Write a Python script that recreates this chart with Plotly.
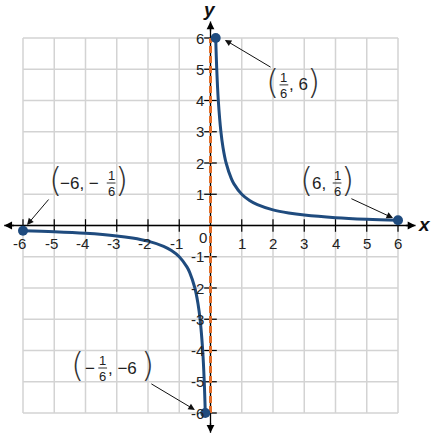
import plotly.graph_objects as go

# -----------------------------------------------------------------------------
# Donnees (y = 1/x, deux branches)
# -----------------------------------------------------------------------------
pos_x = [1 / 6, 0.2, 0.25, 0.333, 0.4, 0.5, 0.667, 0.75, 1, 1.25, 1.5, 2, 2.5, 3, 4, 5, 6]
pos_y = [6, 5, 4, 3, 2.5, 2, 1.5, 1.333, 1, 0.8, 0.667, 0.5, 0.4, 0.333, 0.25, 0.2, 1 / 6]
neg_x = [-6, -5, -4, -3, -2.5, -2, -1.5, -1.25, -1, -0.75, -0.667, -0.5, -0.4, -0.333, -0.25, -0.2, -1 / 6]
neg_y = [-1 / 6, -0.2, -0.25, -0.333, -0.4, -0.5, -0.667, -0.8, -1, -1.333, -1.5, -2, -2.5, -3, -4, -5, -6]
end_x = [1 / 6, 6, -6, -1 / 6]
end_y = [6, 1 / 6, -1 / 6, -6]
ticks = [-6, -5, -4, -3, -2, -1, 1, 2, 3, 4, 5, 6]
grid_vals = [-6, -5, -4, -3, -2, -1, 0, 1, 2, 3, 4, 5, 6]

BLEU = "#1f4b7e"
ORANGE = "#e36d27"
GRILLE = "#d3d3d3"
POLICE = "Liberation Sans, Arial, sans-serif"

fig = go.Figure()

# grille
shapes = []
for v in grid_vals:
    shapes.append(dict(type="line", x0=v, x1=v, y0=-6, y1=6, layer="below",
                       line=dict(color=GRILLE, width=1.5)))
    shapes.append(dict(type="line", x0=-6, x1=6, y0=v, y1=v, layer="below",
                       line=dict(color=GRILLE, width=1.5)))

annotations = []

# axes (traits sous l'asymptote) + pointes de fleche aux bouts
fig.add_trace(go.Scatter(x=[-6.6, 6.56], y=[0, 0], mode="lines", hoverinfo="skip",
                         line=dict(color="black", width=1.3)))
fig.add_trace(go.Scatter(x=[0, 0], y=[-6.63, 6.53], mode="lines", hoverinfo="skip",
                         line=dict(color="black", width=1.3)))
for (hx, hy, qx, qy) in [(6.56, 0, 6.2, 0), (-6.6, 0, -6.24, 0),
                         (0, 6.53, 0, 6.17), (0, -6.63, 0, -6.27)]:
    annotations.append(dict(x=hx, y=hy, ax=qx, ay=qy, xref="x", yref="y", axref="x", ayref="y",
                            text="", showarrow=True, arrowhead=2, arrowsize=1.2,
                            arrowwidth=1.3, arrowcolor="black"))

# petits traits de graduation
fig.add_trace(go.Scatter(x=ticks, y=[0] * len(ticks), mode="markers", hoverinfo="skip",
                         marker=dict(symbol="line-ns", size=9, line=dict(color="black", width=1.2))))
fig.add_trace(go.Scatter(x=[0] * len(ticks), y=ticks, mode="markers", hoverinfo="skip",
                         marker=dict(symbol="line-ew", size=9, line=dict(color="black", width=1.2))))

# asymptote x = 0
fig.add_trace(go.Scatter(x=[0, 0], y=[-6, 6], mode="lines", hoverinfo="skip",
                         line=dict(color=ORANGE, width=3, dash="7px,3px")))

# courbe
fig.add_trace(go.Scatter(x=pos_x, y=pos_y, mode="lines", line_shape="spline",
                         line=dict(color=BLEU, width=3)))
fig.add_trace(go.Scatter(x=neg_x, y=neg_y, mode="lines", line_shape="spline",
                         line=dict(color=BLEU, width=3)))
fig.add_trace(go.Scatter(x=end_x, y=end_y, mode="markers",
                         marker=dict(color=BLEU, size=10)))

# etiquettes des graduations
for v in ticks:
    annotations.append(dict(x=v - (0.1 if v < 0 else 0), y=-0.56, text=str(v), showarrow=False,
                            font=dict(family=POLICE, size=15, color="#222")))
    annotations.append(dict(x=-0.16, y=v, text=str(v), showarrow=False, xanchor="right",
                            font=dict(family=POLICE, size=15, color="#222")))
annotations.append(dict(x=-0.24, y=-0.37, text="0", showarrow=False,
                        font=dict(family=POLICE, size=15, color="#222")))

# titres des axes
annotations.append(dict(x=-0.02, y=6.9, text="<b><i>y</i></b>", showarrow=False,
                        font=dict(family=POLICE, size=19, color="#111")))
annotations.append(dict(x=6.86, y=0.03, text="<b><i>x</i></b>", showarrow=False,
                        font=dict(family=POLICE, size=19, color="#111")))


def texte(x, y, t, size=17, anchor="center"):
    annotations.append(dict(x=x, y=y, text=t, showarrow=False, xanchor=anchor, borderpad=0,
                            font=dict(family=POLICE, size=size, color="#222")))


def paren(x, y, t):
    annotations.append(dict(x=x, y=y, text=t, showarrow=False, borderpad=0,
                            font=dict(family="DejaVu Sans", size=34, color="#333", weight=200)))


def fraction(x, y):
    texte(x, y + 0.25, "1", size=13)
    texte(x, y - 0.27, "6", size=13)
    shapes.append(dict(type="line", x0=x - 0.14, x1=x + 0.14, y0=y, y1=y,
                       line=dict(color="#333", width=1)))


def fleche(x, y, ax, ay):
    annotations.append(dict(x=x, y=y, ax=ax, ay=ay, xref="x", yref="y", axref="x", ayref="y",
                            text="", showarrow=True, arrowhead=2, arrowsize=1.3,
                            arrowwidth=1, arrowcolor="#111"))


# (1/6, 6)
paren(1.98, 4.6, "(")
fraction(2.35, 4.5)
texte(2.47, 4.5, ", 6", anchor="left")
paren(3.3, 4.6, ")")
fleche(0.46, 5.94, 1.97, 5.04)

# (6, 1/6)
paren(3.07, 1.46, "(")
texte(3.2, 1.36, "6,", anchor="left")
fraction(4.05, 1.36)
paren(4.38, 1.46, ")")
fleche(5.84, 0.24, 4.46, 0.88)

# (-6, -1/6)
paren(-4.96, 1.46, "(")
texte(-4.84, 1.36, "\u22126, \u2212", anchor="left")
fraction(-3.18, 1.36)
paren(-2.84, 1.46, ")")
fleche(-5.87, 0.02, -5.14, 0.88)

# (-1/6, -6)
paren(-4.27, -4.46, "(")
texte(-4.06, -4.56, "\u2212", anchor="left")
fraction(-3.45, -4.56)
texte(-3.31, -4.56, ", \u22126", anchor="left")
paren(-2.02, -4.46, ")")
fleche(-0.5, -5.9, -1.94, -5.04)

fig.update_layout(
    width=433,
    height=437,
    margin=dict(l=0, r=0, t=0, b=0),
    plot_bgcolor="white",
    paper_bgcolor="white",
    showlegend=False,
    shapes=shapes,
    annotations=annotations,
    xaxis=dict(range=[-6.736, 7.12], visible=False, fixedrange=True),
    yaxis=dict(range=[-6.768, 7.216], visible=False, fixedrange=True),
)

# la page a une marge de 8px par defaut : on la supprime
fig.write_html("out.html", config={"displayModeBar": False},
               post_script="document.body.style.margin='0';")
